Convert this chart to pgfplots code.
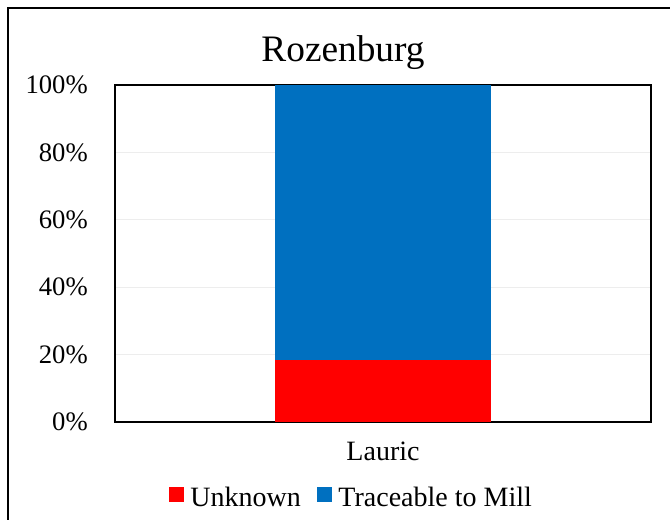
\documentclass[border=0pt]{standalone}
\usepackage{fontspec}
\setmainfont{Liberation Serif}
\usepackage{pgfplots}
\pgfplotsset{compat=1.18}
\definecolor{traceblue}{RGB}{0,112,192}
\begin{document}
\begin{tikzpicture}[x=0.75pt,y=0.75pt]
\useasboundingbox (0,0) rectangle (670,520);
\begin{scope}
\clip (0,0) rectangle (670,520);
\draw[line width=1.5pt] (7.5,512) rectangle (720,-40);
\end{scope}
\begin{axis}[
  at={(86.25pt,73.5pt)}, anchor=south west,
  scale only axis, width=402pt, height=252.75pt,
  ybar stacked, bar width=161.25pt,
  xmin=-0.5, xmax=0.5, ymin=0, ymax=100,
  xtick={0}, xticklabels={Lauric},
  ytick={0,20,40,60,80,100},
  yticklabel={\pgfmathprintnumber{\tick}\%},
  /pgf/number format/assume math mode=true,
  major tick length=0pt,
  ymajorgrids, grid style={color=gray!14, line width=0.9pt},
  axis line style={line width=1.2pt, black},
  yticklabel style={font=\rmfamily\fontsize{20}{22}\selectfont, anchor=east, inner sep=0pt, xshift=-20.25pt},
  xticklabel style={font=\rmfamily\fontsize{21}{23}\selectfont, anchor=north, inner sep=0pt, yshift=-15pt},
  legend columns=2,
  legend style={at={(0.439,-0.2255)}, anchor=center, draw=none,
    font=\rmfamily\fontsize{21}{23}\selectfont,
    nodes={inner sep=0pt},
    column sep=5pt,
    /tikz/every even column/.append style={column sep=12pt}},
  legend image code/.code={\fill[#1] (0pt,-3pt) rectangle (11.25pt,8.25pt);},
]
\addplot[fill=red, draw=none] coordinates {(0,18.5)};
\addplot[fill=traceblue, draw=none] coordinates {(0,81.5)};
\legend{Unknown, Traceable to Mill}
\draw[line width=1.2pt, black] (rel axis cs:0,0) rectangle (rel axis cs:1,1);
\end{axis}
\node[anchor=base, inner sep=0pt, font=\fontsize{28}{30}\selectfont] at (343,458) {Rozenburg};
\end{tikzpicture}
\end{document}
